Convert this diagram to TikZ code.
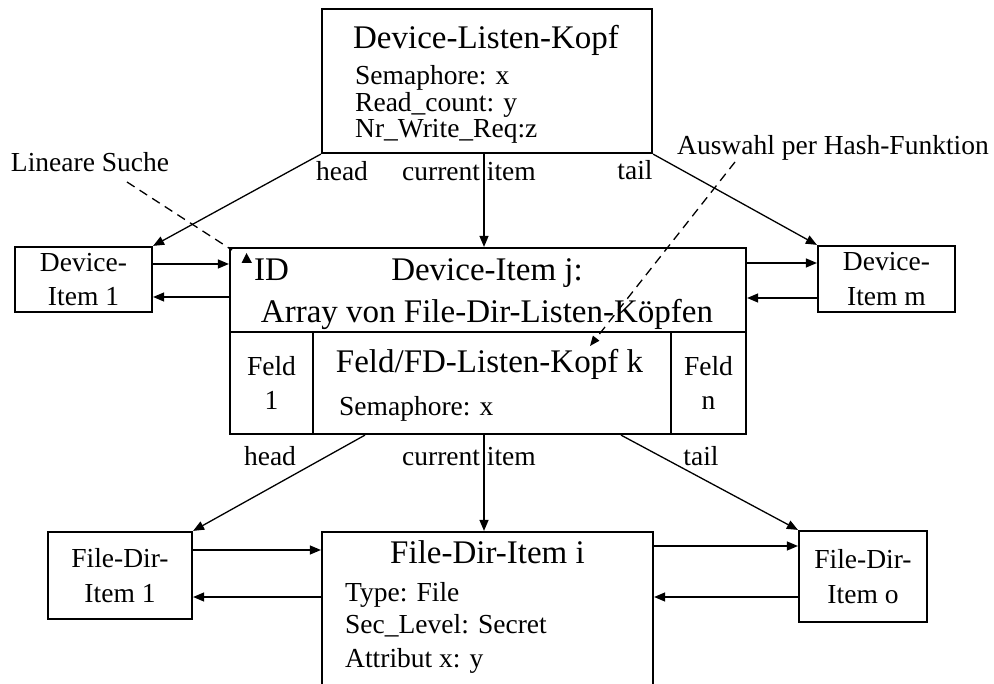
\documentclass[tikz,border=0pt]{standalone}
\usepackage{fontspec}
\setmainfont{Liberation Serif}
\usetikzlibrary{arrows.meta}
\newcommand\fbig{\fontsize{33}{36}\selectfont}
\newcommand\fsmall{\fontsize{27.5}{34.5}\selectfont}
\begin{document}
\begin{tikzpicture}[x=1pt,y=-1pt,
  box/.style={draw, line width=2.2pt, inner sep=0pt, align=center, font=\fsmall},
  arr/.style={line width=1.3pt, -{Triangle[length=11pt,width=9pt]}},
  dsh/.style={line width=1.3pt, dash pattern=on 9pt off 6pt},
  lbl/.style={anchor=base, inner sep=0pt, font=\fsmall},
  lblw/.style={anchor=base west, inner sep=0pt, font=\fsmall},
  ttl/.style={anchor=base, inner sep=0pt, font=\fbig},
  ttlw/.style={anchor=base west, inner sep=0pt, font=\fbig}]
\useasboundingbox (0,0) rectangle (994,684);
\clip (0,0) rectangle (994,684);

% top header box
\node[box, minimum width=330pt, minimum height=144pt] (top) at (487,81) {};
\node[ttl] (topt) at (486,49) {Device-Listen-Kopf};
\node[lblw] (tops1) at (355,85) {Semaphore: x};
\node[lblw] (tops2) at (355,112) {Read\_count: y};
\node[lblw] (tops3) at (355,138) {Nr\_Write\_Req:z};

% device items
\node[box, minimum width=137pt, minimum height=65pt] (di1) at (83.5,279.5) {Device-\\Item 1};
\node[box, minimum width=137pt, minimum height=66pt] (dim) at (886.5,279) {Device-\\Item m};

% device item j
\node[box, minimum width=516pt, minimum height=84pt] (djt) at (488,290) {};
\node[ttlw] (id) at (254,281) {ID};
\node[ttl] (djt1) at (487,281) {Device-Item j:};
\node[ttl] (djt2) at (487,323) {Array von File-Dir-Listen-Köpfen};
\node[box, minimum width=83pt, minimum height=102pt] (f1) at (271.5,383) {Feld\\1};
\node[box, minimum width=358pt, minimum height=102pt] (fk) at (492,383) {};
\node[box, minimum width=75pt, minimum height=102pt] (fn) at (708.5,383) {Feld\\n};
\node[ttl] (fkt) at (489.5,373) {Feld/FD-Listen-Kopf k};
\node[lblw] (fks) at (339,416) {Semaphore: x};

% file dir items
\node[box, minimum width=144pt, minimum height=87pt] (fd1) at (120,575.5) {File-Dir-\\Item 1};
\node[box, minimum width=331pt, minimum height=200pt] (fi) at (487.5,632) {};
\node[ttl] (fit) at (487.5,563) {File-Dir-Item i};
\node[lblw] (fi1) at (345,601) {Type: File};
\node[lblw] (fi2) at (345,633) {Sec\_Level: Secret};
\node[lblw] (fi3) at (345,667) {Attribut x: y};
\node[box, minimum width=128pt, minimum height=91pt] (fdo) at (863,576.5) {File-Dir-\\Item o};

% top connectors
\draw[arr] (top.south west) -- (di1.north east);
\draw[arr] ([xshift=-3pt]top.south) -- ([xshift=-4pt]djt.north);
\draw[arr] (top.south east) -- (dim.north west);
\draw[arr] ([yshift=15.5pt]di1.east) -- ([yshift=26pt]djt.west);
\draw[arr] ([yshift=-7pt]djt.west) -- ([yshift=-17.5pt]di1.east);
\draw[arr] ([yshift=27pt]djt.east) -- ([yshift=16pt]dim.west);
\draw[arr] ([yshift=-19pt]dim.west) -- ([yshift=-8pt]djt.east);

% lower connectors
\draw[arr] ([xshift=-127pt]fk.south) -- (fd1.north east);
\draw[arr] ([xshift=-8pt]fk.south) -- ([xshift=-3.5pt]fi.north);
\draw[arr] ([xshift=129pt]fk.south) -- (fdo.north west);
\draw[arr] ([yshift=25.5pt]fd1.east) -- ([yshift=82pt]fi.west);
\draw[arr] ([yshift=35pt]fi.west) -- ([yshift=-21.5pt]fd1.east);
\draw[arr] ([yshift=86pt]fi.east) -- ([yshift=30.5pt]fdo.west);
\draw[arr] ([yshift=-20.5pt]fdo.west) -- ([yshift=35pt]fi.east);

% labels
\node[lbl] (h1) at (342,181) {head};
\node[lbl] (c1) at (469,181) {current item};
\node[lbl] (t1) at (635,180) {tail};
\node[lbl] (h2) at (270,466) {head};
\node[lbl] (c2) at (469,466) {current item};
\node[lbl] (t2) at (701,466) {tail};
\node[lbl] (ls) at (90,172) {Lineare Suche};
\node[lbl] (hf) at (833,155) {Auswahl per Hash-Funktion};

% dashed annotations
\coordinate (lsA) at (127,182);
\coordinate (lsB) at (232,250);
\draw[dsh] (lsA) -- (lsB);
\fill (241.5,263) -- (246.5,253) -- (252,263) -- cycle;
\coordinate (hfA) at (735,162);
\coordinate (hfB) at (590,346);
\draw[dsh, -{Triangle[length=10pt,width=8pt]}] (hfA) -- (hfB);
\end{tikzpicture}
\end{document}
